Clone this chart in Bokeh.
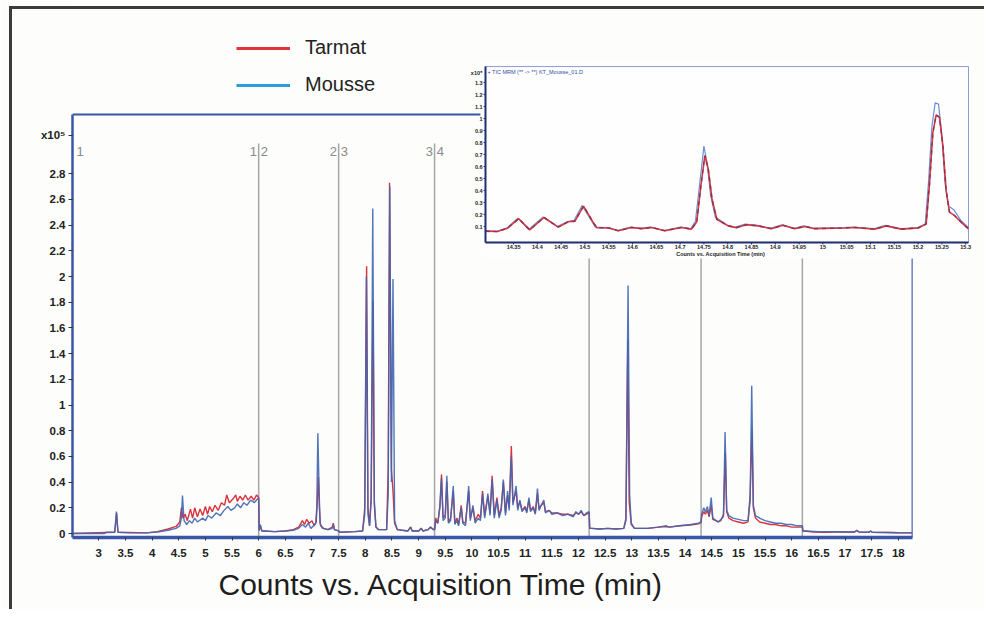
from bokeh.plotting import figure
from bokeh.models import (Range1d, FixedTicker, CustomJSTickFormatter, Title,
                          Legend, LegendItem, InlineStyleSheet)
from bokeh.embed import file_html
from bokeh.resources import INLINE
from bokeh.core.properties import value

# ---------------- data (x10^5 counts vs minutes) ----------------
mousse_pts = [
    (2.51, 0.0), (3.10, 0.0), (3.15, 0.01), (3.30, 0.01), (3.33, 0.17), (3.36, 0.01),
    (3.60, 0.005), (3.90, 0.005), (4.10, 0.012), (4.30, 0.025), (4.45, 0.04), (4.52, 0.06),
    (4.55, 0.12), (4.57, 0.295), (4.60, 0.10), (4.65, 0.07), (4.70, 0.10), (4.75, 0.08),
    (4.80, 0.12), (4.85, 0.09), (4.95, 0.12), (5.00, 0.10), (5.05, 0.14), (5.12, 0.12),
    (5.20, 0.16), (5.28, 0.14), (5.35, 0.18), (5.42, 0.21), (5.48, 0.18), (5.55, 0.20),
    (5.60, 0.23), (5.66, 0.20), (5.72, 0.24), (5.78, 0.22), (5.85, 0.26), (5.92, 0.24),
    (5.98, 0.27), (6.00, 0.27), (6.01, 0.02), (6.03, 0.07), (6.06, 0.02),
    (6.10, 0.02), (6.30, 0.015), (6.50, 0.02), (6.65, 0.025), (6.75, 0.04), (6.82, 0.07),
    (6.88, 0.05), (6.93, 0.08), (6.98, 0.04), (7.03, 0.06), (7.07, 0.08), (7.09, 0.20),
    (7.11, 0.78), (7.13, 0.40), (7.15, 0.08), (7.20, 0.04), (7.30, 0.03), (7.38, 0.04),
    (7.40, 0.07), (7.42, 0.03), (7.50, 0.02),
    (7.52, 0.01), (7.80, 0.015), (7.95, 0.02), (7.99, 0.15), (8.02, 2.00), (8.05, 0.15),
    (8.08, 0.06), (8.11, 0.25), (8.14, 2.53), (8.17, 0.25), (8.20, 0.05), (8.25, 0.03),
    (8.40, 0.03), (8.43, 0.30), (8.46, 2.70), (8.49, 0.40), (8.52, 1.98), (8.55, 0.10),
    (8.60, 0.03), (8.80, 0.02), (8.85, 0.05), (8.88, 0.02), (9.00, 0.02), (9.05, 0.04),
    (9.08, 0.02), (9.18, 0.03), (9.22, 0.05), (9.28, 0.03),
    (9.30, 0.03), (9.32, 0.10), (9.36, 0.08), (9.40, 0.20), (9.43, 0.43), (9.46, 0.10),
    (9.50, 0.12), (9.53, 0.45), (9.56, 0.08), (9.60, 0.10), (9.65, 0.37), (9.68, 0.07),
    (9.72, 0.10), (9.75, 0.06), (9.80, 0.20), (9.83, 0.08), (9.88, 0.06), (9.94, 0.37),
    (9.97, 0.10), (10.02, 0.22), (10.06, 0.08), (10.12, 0.12), (10.16, 0.10), (10.20, 0.31),
    (10.24, 0.12), (10.30, 0.31), (10.34, 0.14), (10.38, 0.42), (10.42, 0.12), (10.47, 0.26),
    (10.51, 0.12), (10.55, 0.18), (10.59, 0.42), (10.63, 0.14), (10.67, 0.33), (10.70, 0.18),
    (10.74, 0.60), (10.77, 0.22), (10.83, 0.37), (10.86, 0.18), (10.90, 0.26), (10.94, 0.17),
    (11.00, 0.20), (11.03, 0.16), (11.07, 0.28), (11.10, 0.17), (11.15, 0.20), (11.19, 0.15),
    (11.23, 0.35), (11.26, 0.18), (11.30, 0.22), (11.35, 0.26), (11.38, 0.16), (11.45, 0.18),
    (11.50, 0.15), (11.60, 0.16), (11.70, 0.14), (11.80, 0.15), (11.90, 0.13), (11.95, 0.17),
    (12.00, 0.15), (12.05, 0.18), (12.10, 0.14), (12.15, 0.16), (12.20, 0.17), (12.21, 0.04),
    (12.25, 0.04), (12.40, 0.035), (12.55, 0.04), (12.70, 0.035), (12.85, 0.04), (12.89, 0.10),
    (12.93, 1.93), (12.96, 0.30), (12.99, 0.08), (13.05, 0.04), (13.30, 0.04), (13.50, 0.05),
    (13.65, 0.06), (13.70, 0.05), (13.90, 0.06), (14.10, 0.07), (14.25, 0.08), (14.30, 0.09),
    (14.31, 0.15), (14.35, 0.20), (14.38, 0.17), (14.42, 0.21), (14.45, 0.14), (14.49, 0.28),
    (14.52, 0.12), (14.58, 0.10), (14.62, 0.09), (14.67, 0.11), (14.72, 0.13), (14.75, 0.79),
    (14.78, 0.18), (14.82, 0.14), (14.90, 0.12), (15.00, 0.11), (15.10, 0.10), (15.18, 0.10),
    (15.22, 0.25), (15.25, 1.15), (15.28, 0.22), (15.32, 0.14), (15.40, 0.12), (15.50, 0.10),
    (15.60, 0.09), (15.70, 0.08), (15.80, 0.08), (15.90, 0.07), (16.00, 0.07), (16.10, 0.06),
    (16.20, 0.06), (16.21, 0.02),
    (16.25, 0.02), (16.50, 0.015), (16.80, 0.015), (17.00, 0.012), (17.18, 0.012), (17.22, 0.025),
    (17.26, 0.012), (17.45, 0.01), (17.48, 0.02), (17.51, 0.01), (17.80, 0.008), (18.00, 0.006),
    (18.26, 0.005),
]

tarmat_pts = [
    (2.51, 0.0), (3.30, 0.01), (3.335, 0.16), (3.36, 0.01), (3.90, 0.005), (4.10, 0.015),
    (4.30, 0.035), (4.45, 0.055), (4.52, 0.09), (4.55, 0.20), (4.58, 0.12), (4.62, 0.15),
    (4.66, 0.10), (4.72, 0.19), (4.76, 0.12), (4.80, 0.20), (4.85, 0.13), (4.90, 0.19),
    (4.95, 0.14), (5.00, 0.21), (5.04, 0.15), (5.08, 0.21), (5.13, 0.17), (5.18, 0.22),
    (5.24, 0.18), (5.30, 0.24), (5.36, 0.22), (5.40, 0.30), (5.45, 0.24), (5.52, 0.27),
    (5.57, 0.30), (5.60, 0.25), (5.65, 0.29), (5.70, 0.26), (5.75, 0.30), (5.80, 0.26),
    (5.86, 0.29), (5.91, 0.26), (5.96, 0.30), (6.00, 0.28), (6.01, 0.03), (6.03, 0.06),
    (6.06, 0.02),
    (6.10, 0.02), (6.30, 0.015), (6.50, 0.02), (6.65, 0.03), (6.75, 0.05), (6.82, 0.10),
    (6.86, 0.07), (6.90, 0.11), (6.95, 0.08), (7.00, 0.10), (7.04, 0.06), (7.08, 0.09),
    (7.10, 0.25), (7.12, 0.44), (7.14, 0.20), (7.16, 0.06), (7.22, 0.04), (7.30, 0.03),
    (7.38, 0.05), (7.40, 0.08), (7.42, 0.03), (7.50, 0.02),
    (7.52, 0.01), (7.80, 0.015), (7.95, 0.02), (7.99, 0.20), (8.025, 2.08), (8.05, 0.20),
    (8.08, 0.06), (8.11, 0.28), (8.145, 1.81), (8.17, 0.22), (8.20, 0.05), (8.25, 0.03),
    (8.40, 0.03), (8.43, 0.50), (8.455, 2.73), (8.49, 0.50), (8.52, 0.33), (8.55, 0.08),
    (8.60, 0.03), (8.80, 0.02), (8.85, 0.05), (8.88, 0.02), (9.00, 0.02), (9.05, 0.04),
    (9.08, 0.02), (9.18, 0.03), (9.22, 0.05), (9.28, 0.03),
    (9.30, 0.03), (9.32, 0.12), (9.36, 0.08), (9.40, 0.22), (9.43, 0.46), (9.46, 0.12),
    (9.50, 0.14), (9.53, 0.40), (9.56, 0.09), (9.60, 0.12), (9.65, 0.33), (9.68, 0.08),
    (9.72, 0.12), (9.75, 0.07), (9.80, 0.22), (9.83, 0.09), (9.88, 0.08), (9.94, 0.33),
    (9.97, 0.12), (10.02, 0.20), (10.06, 0.10), (10.12, 0.15), (10.16, 0.12), (10.20, 0.33),
    (10.24, 0.14), (10.30, 0.29), (10.34, 0.16), (10.38, 0.45), (10.42, 0.14), (10.47, 0.28),
    (10.51, 0.14), (10.55, 0.20), (10.59, 0.40), (10.63, 0.16), (10.67, 0.30), (10.70, 0.20),
    (10.74, 0.68), (10.77, 0.24), (10.83, 0.33), (10.86, 0.20), (10.90, 0.25), (10.94, 0.18),
    (11.00, 0.21), (11.03, 0.17), (11.07, 0.26), (11.10, 0.18), (11.15, 0.21), (11.19, 0.16),
    (11.23, 0.31), (11.26, 0.19), (11.30, 0.22), (11.35, 0.24), (11.38, 0.17), (11.45, 0.18),
    (11.50, 0.16), (11.60, 0.16), (11.70, 0.15), (11.80, 0.15), (11.90, 0.14), (11.95, 0.16),
    (12.00, 0.15), (12.05, 0.17), (12.10, 0.14), (12.15, 0.15), (12.20, 0.16), (12.21, 0.04),
    (12.25, 0.04), (12.40, 0.035), (12.55, 0.04), (12.70, 0.035), (12.85, 0.04), (12.89, 0.12),
    (12.925, 1.50), (12.95, 0.25), (12.99, 0.07), (13.05, 0.04), (13.30, 0.04), (13.50, 0.05),
    (13.65, 0.055), (13.70, 0.05), (13.90, 0.06), (14.10, 0.065), (14.25, 0.075), (14.30, 0.085),
    (14.31, 0.13), (14.35, 0.17), (14.38, 0.15), (14.42, 0.18), (14.45, 0.13), (14.49, 0.22),
    (14.52, 0.11), (14.58, 0.10), (14.62, 0.09), (14.67, 0.10), (14.72, 0.15), (14.755, 0.63),
    (14.78, 0.17), (14.82, 0.12), (14.90, 0.10), (15.00, 0.09), (15.10, 0.08), (15.18, 0.09),
    (15.22, 0.30), (15.255, 0.80), (15.28, 0.20), (15.32, 0.12), (15.40, 0.09), (15.50, 0.08),
    (15.60, 0.07), (15.70, 0.07), (15.80, 0.06), (15.90, 0.06), (16.00, 0.05), (16.10, 0.05),
    (16.20, 0.05), (16.21, 0.02),
    (16.25, 0.02), (16.40, 0.012), (16.60, 0.01), (16.90, 0.012), (17.00, 0.012), (17.18, 0.012),
    (17.22, 0.022), (17.26, 0.012), (17.45, 0.01), (17.48, 0.018), (17.51, 0.01), (17.80, 0.008),
    (18.00, 0.006), (18.26, 0.005),
]

# inset: zoom of 14.29 - 15.31 min
inset_mousse_pts = [
    (14.291, 0.065), (14.316, 0.060), (14.337, 0.09), (14.359, 0.17), (14.382, 0.075),
    (14.412, 0.18), (14.442, 0.10), (14.463, 0.14), (14.477, 0.15), (14.494, 0.275),
    (14.515, 0.14), (14.522, 0.095), (14.550, 0.09), (14.568, 0.067), (14.596, 0.095),
    (14.617, 0.085), (14.638, 0.095), (14.666, 0.067), (14.701, 0.095), (14.722, 0.08),
    (14.732, 0.14), (14.741, 0.45), (14.750, 0.77), (14.757, 0.62), (14.764, 0.36),
    (14.774, 0.18), (14.799, 0.11), (14.816, 0.095), (14.837, 0.12), (14.862, 0.11),
    (14.890, 0.085), (14.914, 0.115), (14.939, 0.085), (14.960, 0.105), (14.981, 0.085),
    (15.044, 0.09), (15.065, 0.095), (15.107, 0.08), (15.131, 0.11), (15.163, 0.08),
    (15.198, 0.09), (15.215, 0.12), (15.222, 0.47), (15.229, 0.93), (15.236, 1.13),
    (15.243, 1.12), (15.250, 0.86), (15.257, 0.45), (15.264, 0.27), (15.275, 0.24),
    (15.290, 0.15), (15.306, 0.09),
]
inset_tarmat_pts = [
    (14.291, 0.06), (14.316, 0.058), (14.337, 0.085), (14.361, 0.165), (14.384, 0.072),
    (14.414, 0.175), (14.444, 0.095), (14.465, 0.14), (14.479, 0.145), (14.497, 0.27),
    (14.518, 0.13), (14.525, 0.09), (14.550, 0.088), (14.570, 0.065), (14.598, 0.092),
    (14.619, 0.082), (14.640, 0.092), (14.668, 0.065), (14.703, 0.092), (14.724, 0.078),
    (14.735, 0.14), (14.744, 0.45), (14.752, 0.69), (14.759, 0.58), (14.767, 0.33),
    (14.777, 0.16), (14.801, 0.105), (14.818, 0.09), (14.839, 0.115), (14.864, 0.105),
    (14.892, 0.082), (14.916, 0.11), (14.941, 0.082), (14.962, 0.10), (14.983, 0.082),
    (15.046, 0.088), (15.067, 0.092), (15.109, 0.078), (15.133, 0.105), (15.165, 0.078),
    (15.200, 0.088), (15.217, 0.12), (15.224, 0.45), (15.231, 0.88), (15.238, 1.03),
    (15.245, 1.01), (15.252, 0.78), (15.259, 0.40), (15.266, 0.22), (15.277, 0.19),
    (15.292, 0.13), (15.306, 0.08),
]

x_ticks = [3, 3.5, 4, 4.5, 5, 5.5, 6, 6.5, 7, 7.5, 8, 8.5, 9, 9.5, 10, 10.5, 11, 11.5,
           12, 12.5, 13, 13.5, 14, 14.5, 15, 15.5, 16, 16.5, 17, 17.5, 18]
y_ticks = [0, 0.2, 0.4, 0.6, 0.8, 1, 1.2, 1.4, 1.6, 1.8, 2, 2.2, 2.4, 2.6, 2.8]
y_scale_tick = 3.1          # where the "x10⁵" multiplier sits
segment_times = [6.0, 7.5, 9.3, 12.2, 14.3, 16.2]
seg_left_labels = ["1", "2", "3"]          # left of lines at 6.0, 7.5, 9.3
seg_right_labels = ["2", "3", "4"]         # right of lines
inset_x_ticks = [14.35, 14.4, 14.45, 14.5, 14.55, 14.6, 14.65, 14.7, 14.75, 14.8, 14.85,
                 14.9, 14.95, 15.0, 15.05, 15.1, 15.15, 15.2, 15.25, 15.3]
inset_x_labels = ["14.35", "14.4", "14.45", "14.5", "14.55", "14.6", "14.65", "14.7",
                  "14.75", "14.8", "14.85", "14.9", "14.95", "15", "15.05", "15.1",
                  "15.15", "15.2", "15.25", "15.3"]
inset_y_ticks = [0.1, 0.2, 0.3, 0.4, 0.5, 0.6, 0.7, 0.8, 0.9, 1.0, 1.1, 1.2, 1.3]
inset_y_labels = ["0.1", "0.2", "0.3", "0.4", "0.5", "0.6", "0.7", "0.8", "0.9", "1",
                  "1.1", "1.2", "1.3"]

mousse_t, mousse_v = zip(*mousse_pts)
tarmat_t, tarmat_v = zip(*tarmat_pts)
imt, imv = zip(*inset_mousse_pts)
itt, itv = zip(*inset_tarmat_pts)

# ---------------- layout constants ----------------
FONT = "Liberation Sans"
BG = "#fdfdfb"
AXIS_BLUE = "#3a56a6"
X0, X1 = 2.507, 19.617
Y0, Y1 = -0.031, 4.148
BOX_X1, BOX_Y1 = 18.26, 3.26
NAN = float("nan")

border_css = InlineStyleSheet(css="""
:host { position: relative; }
:host::after { content: ""; position: absolute; left: 9px; top: 6px; right: 0; bottom: 0;
  border-left: 3px solid #3b3b3b; border-top: 3px solid #3b3b3b; pointer-events: none; }
""")

p = figure(width=984, height=609, x_range=Range1d(X0, X1), y_range=Range1d(Y0, Y1),
           output_backend="svg", toolbar_location=None,
           min_border_left=72, min_border_right=0, min_border_top=0, min_border_bottom=72,
           stylesheets=[border_css])
p.xgrid.visible = False
p.ygrid.visible = False
p.outline_line_color = None
p.background_fill_color = BG
p.border_fill_color = BG

x_fmt = CustomJSTickFormatter(code="return String(Math.round(tick*100)/100);")
y_fmt = CustomJSTickFormatter(code="""
if (tick > 3.0) { return "x10\u2075"; }
return String(Math.round(tick*100)/100);
""")
xa = p.xaxis[0]
xa.ticker = FixedTicker(ticks=x_ticks)
xa.formatter = x_fmt
xa.bounds = (X0, BOX_X1)
xa.axis_line_color = AXIS_BLUE
xa.axis_line_width = 3.5
xa.major_tick_line_color = "#333333"
xa.major_tick_out = 3
xa.major_tick_in = 0
xa.minor_tick_line_color = None
xa.major_label_standoff = 8
xa.major_label_text_font = FONT
xa.major_label_text_font_size = "11.5px"
xa.major_label_text_font_style = "bold"
xa.major_label_text_color = "#222222"

ya = p.yaxis[0]
ya.ticker = FixedTicker(ticks=y_ticks + [y_scale_tick])
ya.formatter = y_fmt
ya.bounds = (Y0, BOX_Y1)
ya.axis_line_color = AXIS_BLUE
ya.axis_line_width = 2.5
ya.major_tick_line_color = "#333333"
ya.major_tick_out = 4
ya.major_tick_in = 0
ya.minor_tick_line_color = None
ya.major_label_standoff = 3
ya.major_label_text_font = FONT
ya.major_label_text_font_size = "11.5px"
ya.major_label_text_font_style = "bold"
ya.major_label_text_color = "#222222"

p.add_layout(Title(text="Counts vs. Acquisition Time (min)", align="left", offset=146,
                   text_font=FONT, text_font_size="30px", text_font_style="normal",
                   text_color="#1e1e1e", standoff=12), "below")

# main box (top and right edges)
p.line([X0, BOX_X1], [BOX_Y1, BOX_Y1], color=AXIS_BLUE, line_width=2)
p.line([BOX_X1, BOX_X1], [Y0, BOX_Y1], color="#6f80c4", line_width=1.5)

# segment separators
p.segment(x0=segment_times, y0=[Y0] * len(segment_times), x1=segment_times,
          y1=[3.035] * len(segment_times), color="#a6a6a6", line_width=1.5)
p.text(x=[2.58], y=[2.97], text=["1"], text_font=value(FONT), text_font_size="13px",
       text_color="#8a8a8a", text_baseline="middle", text_align="left")
p.text(x=[t - 0.03 for t in segment_times[:3]], y=[2.97] * 3, text=seg_left_labels,
       text_font=value(FONT), text_font_size="13px", text_color="#8a8a8a",
       text_baseline="middle", text_align="right")
p.text(x=[t + 0.04 for t in segment_times[:3]], y=[2.97] * 3, text=seg_right_labels,
       text_font=value(FONT), text_font_size="13px", text_color="#8a8a8a",
       text_baseline="middle", text_align="left")

# traces
p.line(tarmat_t, tarmat_v, color="#d8343e", line_width=1.4)
p.line(mousse_t, mousse_v, color="#3d66b3", line_width=1.4, alpha=0.9)

# legend (swatch renderers carry no visible data)
r_t = p.line([NAN, NAN], [NAN, NAN], color="#e0353d", line_width=3)
r_m = p.line([NAN, NAN], [NAN, NAN], color="#2a9fd8", line_width=3)
legend = Legend(items=[LegendItem(label="Tarmat", renderers=[r_t]),
                       LegendItem(label="Mousse", renderers=[r_m])],
                location=(164, 441), background_fill_alpha=0, border_line_color=None,
                padding=0, margin=0, spacing=14, glyph_width=54, glyph_height=22,
                label_height=22, label_standoff=15, label_text_font=FONT,
                label_text_font_size="20px", label_text_color="#222222")
p.add_layout(legend)

# ---------------- inset ----------------
p.quad(left=[10.16], right=[19.39], bottom=[2.14], top=[3.68], fill_color="#fefefe",
       line_color=None)
IX0, IX1, IY0, IY1 = 14.291, 15.306, -0.033, 1.433
sub = p.subplot(x_source=Range1d(IX0, IX1), y_source=Range1d(IY0, IY1),
                x_target=Range1d(10.255, 19.317), y_target=Range1d(2.265, 3.634))
sub.quad(left=[IX0], right=[IX1], bottom=[IY0], top=[IY1], fill_color=None,
         line_color="#8f9dd0", line_width=1)
sub.line(imt, imv, color="#6a8fd0", line_width=1.2)
sub.line(itt, itv, color="#e8323a", line_width=1.6)
sub.line(itt, itv, color="#3a3464", line_width=1.6, line_dash="4 4", alpha=0.55)
sub.line([IX0, IX1], [IY0, IY0], color="#1f2f70", line_width=2)
sub.line([IX0, IX0], [IY0, IY1], color="#1f2f70", line_width=2)
sub.segment(x0=inset_x_ticks, y0=[IY0] * len(inset_x_ticks), x1=inset_x_ticks,
            y1=[-0.05] * len(inset_x_ticks), color="#1f2f70", line_width=1)
sub.segment(x0=[IX0] * len(inset_y_ticks), y0=inset_y_ticks, x1=[IX0 - 0.004] * len(inset_y_ticks),
            y1=inset_y_ticks, color="#1f2f70", line_width=1)
sub.text(x=inset_x_ticks, y=[-0.058] * len(inset_x_ticks), text=inset_x_labels,
         text_font=value(FONT), text_font_size="5.5px", text_font_style="bold",
         text_color="#222222", text_align="center", text_baseline="top")
sub.text(x=[IX0 - 0.006] * len(inset_y_ticks), y=inset_y_ticks, text=inset_y_labels,
         text_font=value(FONT), text_font_size="5.5px", text_font_style="bold",
         text_color="#222222", text_align="right", text_baseline="middle")
sub.text(x=[IX0 - 0.006], y=[1.38], text=["x10⁵"], text_font=value(FONT),
         text_font_size="5.5px", text_font_style="bold", text_color="#222222",
         text_align="right", text_baseline="middle")
sub.text(x=[IX0 + 0.004], y=[1.39], text=["+ TIC MRM (** -> **) KT_Mousse_01.D"],
         text_font=value(FONT), text_font_size="5.5px", text_color="#3050a0",
         text_align="left", text_baseline="middle")
sub.text(x=[14.785], y=[-0.105], text=["Counts vs. Acquisition Time (min)"],
         text_font=value(FONT), text_font_size="5.5px", text_font_style="bold",
         text_color="#222222", text_align="center", text_baseline="top")

open("out.html", "w").write(file_html(p, INLINE))
